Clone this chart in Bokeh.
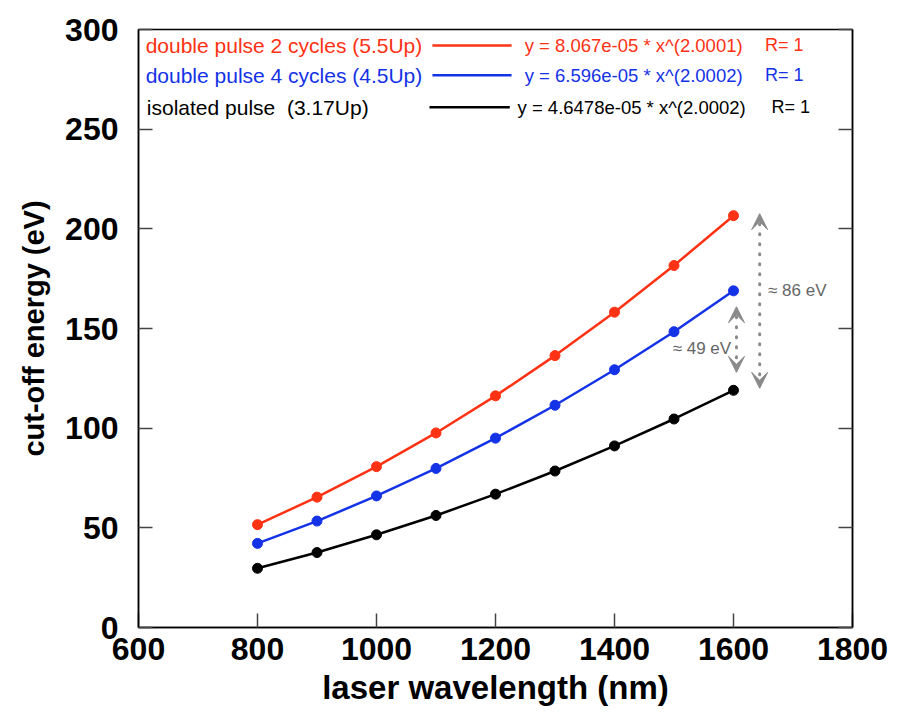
from bokeh.plotting import figure
from bokeh.models import (LinearAxis, Range1d, SingleIntervalTicker, Label, Arrow, VeeHead)
from bokeh.embed import file_html
from bokeh.resources import INLINE

# ---------------- data ----------------
wavelength = [800, 900, 1000, 1100, 1200, 1300, 1400, 1500, 1600]
double2 = [51.6, 65.4, 80.7, 97.6, 116.2, 136.4, 158.2, 181.6, 206.6]
double4 = [42.2, 53.4, 66.0, 79.8, 95.0, 111.5, 129.3, 148.4, 168.9]
isolated = [29.7, 37.6, 46.5, 56.2, 66.9, 78.5, 91.1, 104.6, 119.0]

x_tick_step = 200
y_tick_step = 50

series_names = ["double pulse 2 cycles (5.5Up)", "double pulse 4 cycles (4.5Up)",
                "isolated pulse\u00a0\u00a0(3.17Up)"]
fit_texts = ["y = 8.067e-05 * x^(2.0001)", "y = 6.596e-05 * x^(2.0002)",
             "y = 4.6478e-05 * x^(2.0002)"]
r_texts = ["R= 1", "R= 1", "R= 1"]
colors = ["#ff3214", "#1432e6", "#000000"]

diff_labels = ["\u2248 86 eV", "\u2248 49 eV"]

FONT = "Liberation Sans"

p = figure(width=906, height=713, output_backend="svg", toolbar_location=None,
           x_range=Range1d(600, 1800), y_range=Range1d(0, 300),
           x_axis_location=None, y_axis_location=None,
           min_border_left=138, min_border_right=54, min_border_top=29,
           min_border_bottom=86, background_fill_color="white",
           border_fill_color="white")
p.grid.visible = False
p.outline_line_color = "black"
p.outline_line_width = 1.5

def style_axis(ax):
    ax.axis_line_color = "black"
    ax.axis_line_width = 1.5
    ax.major_tick_in = 14
    ax.major_tick_out = 0
    ax.minor_tick_line_color = None
    ax.major_tick_line_color = "#444444"
    ax.major_tick_line_width = 1.5
    ax.major_label_text_font = FONT
    ax.major_label_text_font_style = "bold"
    ax.major_label_text_font_size = "32px"
    ax.major_label_text_color = "black"
    ax.axis_label_text_font = FONT
    ax.axis_label_text_font_style = "bold"
    ax.axis_label_text_color = "black"

def tick_only_axis(step, top):
    ax = LinearAxis(ticker=SingleIntervalTicker(interval=step))
    style_axis(ax)
    ax.major_label_overrides = {v: "" for v in range(0, top + 1, step)}
    ax.major_label_standoff = 0
    return ax

# tick-only axes next to the frame (inward ticks on all three sides)
p.add_layout(tick_only_axis(x_tick_step, 1800), "below")
p.add_layout(tick_only_axis(y_tick_step, 300), "left")
p.add_layout(tick_only_axis(y_tick_step, 300), "right")

# labelled axes
xaxis = LinearAxis(ticker=SingleIntervalTicker(interval=x_tick_step))
style_axis(xaxis)
xaxis.axis_line_color = None
xaxis.major_tick_line_color = None
xaxis.axis_label = "laser wavelength (nm)"
xaxis.axis_label_text_font_size = "33px"
xaxis.major_label_standoff = 2
xaxis.axis_label_standoff = 6
p.add_layout(xaxis, "below")

yaxis = LinearAxis(ticker=SingleIntervalTicker(interval=y_tick_step))
style_axis(yaxis)
yaxis.axis_line_color = None
yaxis.major_tick_line_color = None
yaxis.axis_label = "cut-off energy (eV)"
yaxis.axis_label_text_font_size = "29px"
yaxis.major_label_standoff = 12
yaxis.axis_label_standoff = 12
p.add_layout(yaxis, "left")

# ---------------- series ----------------
for ys, c in zip([double2, double4, isolated], colors):
    p.line(wavelength, ys, line_color=c, line_width=2.5)
    p.scatter(wavelength, ys, size=10, fill_color=c, line_color=c)

# ---------------- legend block ----------------
leg_y = [292, 277, 261]
text_x = [612, 612, 614]
seg_x0 = [1094, 1094, 1089]
seg_x1 = [1227, 1227, 1224]
fit_x = [1249, 1249, 1237]
r_x = [1653, 1653, 1664]
for i in range(3):
    p.add_layout(Label(x=text_x[i], y=leg_y[i], text=series_names[i],
                       text_color=colors[i], text_font=FONT,
                       text_font_size="21px", text_baseline="middle"))
    p.add_layout(Arrow(x_start=seg_x0[i], y_start=leg_y[i], x_end=seg_x1[i],
                       y_end=leg_y[i], end=None, line_color=colors[i],
                       line_width=2.5))
    p.add_layout(Label(x=fit_x[i], y=leg_y[i], text=fit_texts[i],
                       text_color=colors[i], text_font=FONT,
                       text_font_size="18.5px", text_baseline="middle"))
    p.add_layout(Label(x=r_x[i], y=leg_y[i], text=r_texts[i],
                       text_color=colors[i], text_font=FONT,
                       text_font_size="18px", text_baseline="middle"))

# ---------------- difference arrows ----------------
gray = "#8a8a8a"
def darrow(x, y0, y1):
    p.add_layout(Arrow(x_start=x, y_start=y0, x_end=x, y_end=y1,
                       line_color=gray, line_width=3, line_dash="1 9",
                       line_cap="round",
                       start=VeeHead(size=16, fill_color=gray, line_color=gray),
                       end=VeeHead(size=16, fill_color=gray, line_color=gray)))

darrow(1644, double2[-1] + 1, isolated[-1] + 1)
darrow(1605, double4[-1] - 8, isolated[-1] + 9)

p.add_layout(Label(x=1658, y=169, text=diff_labels[0], text_color="#666666",
                   text_font=FONT, text_font_size="17px", text_baseline="middle"))
p.add_layout(Label(x=1596, y=140, text=diff_labels[1], text_color="#666666",
                   text_font=FONT, text_font_size="17px", text_baseline="middle",
                   text_align="right"))

open("out.html", "w").write(file_html(p, INLINE))
